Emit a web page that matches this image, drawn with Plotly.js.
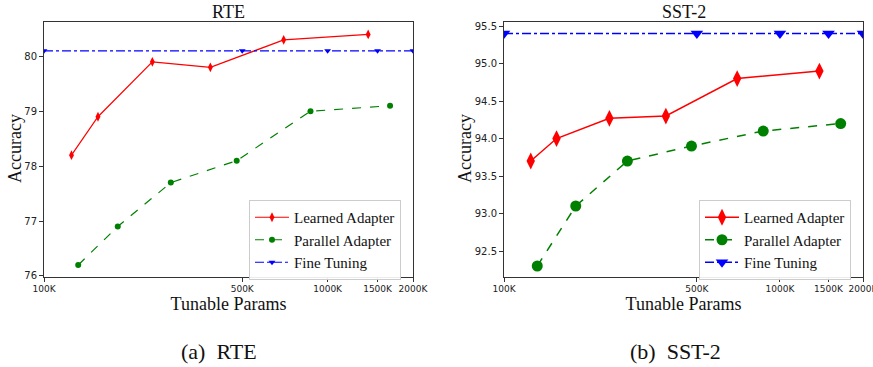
<!DOCTYPE html>
<html><head><meta charset="utf-8">
<script src="https://cdn.plot.ly/plotly-3.0.1.min.js"></script>
<style>html,body{margin:0;padding:0;background:#fff}#chart{width:873px;height:367px}</style>
</head><body><div id="chart"></div>
<script>
// Data
const learnedParams = [125000, 155000, 241000, 386000, 700000, 1390000];
const parallelParams = [132000, 182000, 280000, 478000, 870000, 1660000];
const fineParams = [100000, 500000, 1000000, 1500000, 2000000];

const rteLearned = [78.2, 78.9, 79.9, 79.8, 80.3, 80.4];
const rteParallel = [76.2, 76.9, 77.7, 78.1, 79.0, 79.1];
const rteFine = [80.1, 80.1, 80.1, 80.1, 80.1];

const sstLearned = [93.7, 94.0, 94.27, 94.3, 94.8, 94.9];
const sstParallel = [92.3, 93.1, 93.7, 93.9, 94.1, 94.2];
const sstFine = [95.4, 95.4, 95.4, 95.4, 95.4];

const xTickVals = [100000, 500000, 1000000, 1500000, 2000000];
const xTickText = ["100K", "500K", "1000K", "1500K", "2000K"];
const rteTicks = [76, 77, 78, 79, 80];
const sstTicks = [92.5, 93.0, 93.5, 94.0, 94.5, 95.0, 95.5];
const sstTickText = ["92.5", "93.0", "93.5", "94.0", "94.5", "95.0", "95.5"];

const seriesNames = ["Learned Adapter", "Parallel Adapter", "Fine Tuning"];

const W = 873, H = 367;
const serif = "Liberation Serif";
const sans = "DejaVu Sans";

function tr(x, y, name, color, dash, symbol, size, lw, xa, ya, leg) {
  return {x: x, y: y, name: name, type: 'scatter', mode: 'lines+markers',
    line: {color: color, dash: dash, width: lw},
    marker: {color: color, symbol: symbol, size: size},
    xaxis: xa, yaxis: ya, legend: leg};
}

const data = [
  tr(learnedParams, rteLearned, seriesNames[0], '#ff0000', 'solid', 'diamond-tall', 7, 1.2, 'x', 'y', 'legend'),
  tr(parallelParams, rteParallel, seriesNames[1], '#008000', 'dash', 'circle', 6, 1.2, 'x', 'y', 'legend'),
  tr(fineParams, rteFine, seriesNames[2], '#0000ff', 'dashdot', 'triangle-down', 6, 1.2, 'x', 'y', 'legend'),
  tr(learnedParams, sstLearned, seriesNames[0], '#ff0000', 'solid', 'diamond-tall', 12, 1.5, 'x2', 'y2', 'legend2'),
  tr(parallelParams, sstParallel, seriesNames[1], '#008000', 'dash', 'circle', 11, 1.5, 'x2', 'y2', 'legend2'),
  tr(fineParams, sstFine, seriesNames[2], '#0000ff', 'dashdot', 'triangle-down', 11, 1.5, 'x2', 'y2', 'legend2')
];

function xax(domain, anchor) {
  return {domain: domain, anchor: anchor, type: 'log', range: [5, Math.log10(2000000)],
    tickvals: xTickVals, ticktext: xTickText, ticks: 'outside', ticklen: 4, tickcolor: '#333',
    ticklabeloverflow: 'allow',
    showline: true, linecolor: '#333', linewidth: 1, mirror: true, showgrid: false, zeroline: false,
    tickfont: {family: sans, size: 9, color: '#222'},
    title: {text: 'Tunable Params', font: {family: serif, size: 18, color: '#111'}, standoff: 2},
    automargin: false};
}
function yax(range, tv, tt, anchor) {
  return {domain: [1 - 276.5 / H, 1 - 22.3 / H], anchor: anchor, range: range,
    tickvals: tv, ticktext: tt, ticks: 'outside', ticklen: 4, tickcolor: '#333',
    showline: true, linecolor: '#333', linewidth: 1, mirror: true, showgrid: false, zeroline: false,
    tickfont: {family: sans, size: 10, color: '#222'},
    automargin: false};
}

const layout = {
  width: W, height: H, margin: {l: 0, r: 0, t: 0, b: 0},
  paper_bgcolor: '#fff', plot_bgcolor: '#fff', showlegend: true,
  font: {family: serif},
  xaxis: xax([44 / W, 413 / W], 'y'),
  yaxis: yax([75.99, 80.62], rteTicks, rteTicks.map(String), 'x'),
  xaxis2: xax([504 / W, 863 / W], 'y2'),
  yaxis2: yax([92.16, 95.55], sstTicks, sstTickText, 'x2'),
  legend: {x: 249 / W, y: 1 - 200 / H, xanchor: 'left', yanchor: 'top', bgcolor: 'rgba(255,255,255,0.9)',
    bordercolor: '#ccc', borderwidth: 1, font: {family: serif, size: 15, color: '#111'}, tracegroupgap: 0, itemwidth: 34},
  legend2: {x: 699 / W, y: 1 - 200 / H, xanchor: 'left', yanchor: 'top', bgcolor: 'rgba(255,255,255,0.9)',
    bordercolor: '#ccc', borderwidth: 1, font: {family: serif, size: 15, color: '#111'}, tracegroupgap: 0, itemwidth: 34},
  annotations: [
    {text: 'RTE', xref: 'paper', yref: 'paper', x: (44 + 413) / 2 / W, y: 1 - 12 / H, showarrow: false,
     xanchor: 'center', yanchor: 'middle', font: {family: serif, size: 18, color: '#111'}},
    {text: 'SST-2', xref: 'paper', yref: 'paper', x: (504 + 863) / 2 / W, y: 1 - 12 / H, showarrow: false,
     xanchor: 'center', yanchor: 'middle', font: {family: serif, size: 18, color: '#111'}},
    {text: 'Accuracy', xref: 'paper', yref: 'paper', x: 15 / W, y: 1 - 149 / H, showarrow: false, textangle: -90,
     xanchor: 'center', yanchor: 'middle', font: {family: serif, size: 18, color: '#111'}},
    {text: 'Accuracy', xref: 'paper', yref: 'paper', x: 465 / W, y: 1 - 149 / H, showarrow: false, textangle: -90,
     xanchor: 'center', yanchor: 'middle', font: {family: serif, size: 18, color: '#111'}},
    {text: '(a)  RTE', xref: 'paper', yref: 'paper', x: 219 / W, y: 1 - 351 / H, showarrow: false,
     xanchor: 'center', yanchor: 'middle', font: {family: serif, size: 22, color: '#111'}},
    {text: '(b)  SST-2', xref: 'paper', yref: 'paper', x: 675 / W, y: 1 - 351 / H, showarrow: false,
     xanchor: 'center', yanchor: 'middle', font: {family: serif, size: 22, color: '#111'}}
  ]
};

Plotly.newPlot('chart', data, layout, {staticPlot: true, displayModeBar: false});
</script></body></html>
